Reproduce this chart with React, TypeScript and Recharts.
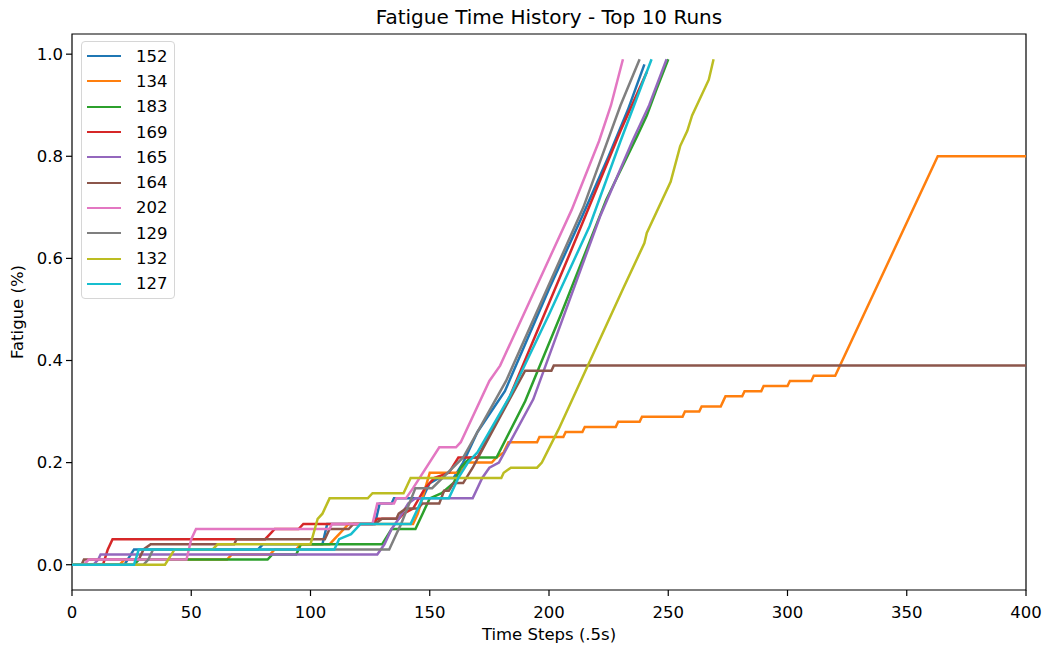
import React from "react";
import { LineChart, Line, XAxis, YAxis, ReferenceArea, Legend } from "recharts";

// run ids, in the order they were plotted
const runNames = ["152", "134", "183", "169", "165", "164", "202", "129", "132", "127"];
const runColors = [
  "#1f77b4",
  "#ff7f0e",
  "#2ca02c",
  "#d62728",
  "#9467bd",
  "#8c564b",
  "#e377c2",
  "#7f7f7f",
  "#bcbd22",
  "#17becf",
];

const xTicks = [0, 50, 100, 150, 200, 250, 300, 350, 400];
const yTicks = [0, 0.2, 0.4, 0.6, 0.8, 1.0];

// [time step, fatigue] break points
const run152: [number, number][] = [
  [0, 0], [22, 0], [26, 0.03], [78, 0.03], [80, 0.04], [105, 0.04], [107, 0.08], [127, 0.08],
  [129, 0.12], [134, 0.12], [135, 0.13], [147, 0.13], [150, 0.16], [154, 0.17], [160, 0.17],
  [164, 0.2], [170, 0.26], [181.5, 0.34], [200, 0.54], [213.7, 0.68], [225, 0.8], [233, 0.89], [240, 0.98],
];
const run134: [number, number][] = [
  [0, 0], [20, 0], [22, 0.01], [65, 0.01], [67, 0.02], [83, 0.02], [85, 0.03], [94, 0.03],
  [96, 0.04], [108, 0.04], [110, 0.05], [112, 0.06], [114, 0.07], [116, 0.08], [143, 0.08],
  [145, 0.1], [150, 0.18], [163, 0.18], [165, 0.2], [176, 0.2], [178, 0.21], [181, 0.22],
  [183, 0.24], [195, 0.24], [196, 0.25], [206, 0.25], [207, 0.26], [214, 0.26], [215, 0.27],
  [228, 0.27], [229, 0.28], [238, 0.28], [239, 0.29], [256, 0.29], [257, 0.3], [263, 0.3],
  [264, 0.31], [272, 0.31], [273, 0.32], [274, 0.33], [281, 0.33], [282, 0.34], [289, 0.34],
  [290, 0.35], [300, 0.35], [301, 0.36], [310, 0.36], [311, 0.37], [320, 0.37], [363, 0.8], [400, 0.8],
];
const run183: [number, number][] = [
  [0, 0], [26, 0], [28, 0.01], [82, 0.01], [84, 0.02], [94, 0.02], [96, 0.04], [130, 0.04],
  [134, 0.07], [144, 0.07], [147, 0.1], [150, 0.13], [155, 0.14], [160, 0.16], [163, 0.19],
  [167, 0.21], [178, 0.21], [190, 0.32], [205, 0.49], [224, 0.715], [237, 0.84], [241, 0.88],
  [245, 0.93], [250, 0.99],
];
const run169: [number, number][] = [
  [0, 0], [13, 0], [15, 0.03], [17, 0.05], [81, 0.05], [83, 0.06], [85, 0.07], [95, 0.07],
  [97, 0.08], [126, 0.08], [128, 0.09], [137, 0.09], [139, 0.1], [143, 0.11], [148, 0.15],
  [152, 0.17], [158, 0.18], [162, 0.21], [170, 0.21], [183.6, 0.33], [208.8, 0.61], [230, 0.85],
  [241, 0.965],
];
const run165: [number, number][] = [
  [0, 0], [9, 0], [11, 0.01], [12, 0.02], [128, 0.02], [131, 0.04], [134, 0.07], [137, 0.09],
  [141, 0.12], [144, 0.13], [168, 0.13], [172, 0.17], [175, 0.19], [179, 0.2], [193.4, 0.324],
  [221.4, 0.682], [235, 0.83], [242, 0.9], [249.3, 0.99],
];
const run164: [number, number][] = [
  [0, 0], [4, 0], [5, 0.01], [28, 0.01], [30, 0.03], [33, 0.04], [68, 0.04], [69, 0.05],
  [106, 0.05], [108, 0.07], [116, 0.07], [118, 0.08], [127, 0.08], [130, 0.09], [136, 0.09],
  [137, 0.1], [140, 0.11], [145, 0.11], [147, 0.12], [154, 0.12], [156, 0.145], [158, 0.145],
  [160, 0.16], [164, 0.16], [168, 0.19], [183, 0.32], [190, 0.38], [201, 0.38], [202, 0.39],
  [400, 0.39],
];
const run202: [number, number][] = [
  [0, 0], [5, 0], [7, 0.01], [48, 0.01], [50, 0.05], [52, 0.07], [108, 0.07], [109, 0.08],
  [126, 0.08], [128, 0.12], [135, 0.12], [136, 0.13], [140, 0.13], [143, 0.15], [154, 0.23],
  [161, 0.23], [163, 0.24], [175, 0.36], [179.5, 0.39], [209.5, 0.695], [221, 0.83], [226, 0.9],
  [231, 0.99],
];
const run129: [number, number][] = [
  [0, 0], [30, 0], [32, 0.01], [34, 0.03], [133, 0.03], [136, 0.06], [138, 0.08], [144, 0.15],
  [151, 0.15], [164, 0.21], [182, 0.36], [214.4, 0.7], [230, 0.9], [238, 0.99],
];
const run132: [number, number][] = [
  [0, 0], [39, 0], [43, 0.03], [59, 0.03], [61, 0.04], [100, 0.04], [103, 0.09], [105, 0.1],
  [108, 0.13], [124, 0.13], [126, 0.14], [139, 0.14], [142, 0.17], [180, 0.17], [181, 0.18],
  [184, 0.19], [195, 0.19], [197, 0.2], [204, 0.265], [231, 0.54], [240, 0.63], [241, 0.65],
  [251, 0.75], [255, 0.82], [258, 0.85], [260, 0.88], [267, 0.95], [269, 0.99],
];
const run127: [number, number][] = [
  [0, 0], [26, 0], [28, 0.03], [110, 0.03], [112, 0.05], [117, 0.06], [121, 0.08], [142, 0.08],
  [147, 0.13], [158, 0.13], [162, 0.17], [166, 0.2], [170, 0.22], [183.6, 0.33], [200, 0.49],
  [217, 0.663], [230, 0.83], [243, 0.99],
];

const runs = [run152, run134, run183, run169, run165, run164, run202, run129, run132, run127];
const series = runs.map((pts) => pts.map(([t, v]) => ({ t, v })));

const FONT = "'DejaVu Sans', sans-serif";

// legend keeps plotting order (recharts sorts by name otherwise)
const renderLegend = ({ payload }: any) => {
  const items = [...(payload || [])].sort(
    (a: any, b: any) => runNames.indexOf(String(a.value)) - runNames.indexOf(String(b.value))
  );
  return (
    <div
      style={{
        boxSizing: "border-box",
        width: 94,
        border: "1px solid #d6d6d6",
        borderRadius: 4,
        background: "rgba(255,255,255,0.8)",
        padding: "1.5px 5px",
        fontFamily: FONT,
        fontSize: 16.5,
        color: "#000",
      }}
    >
      {items.map((p: any) => (
        <div key={p.value} style={{ display: "flex", alignItems: "center", height: 25.3 }}>
          <span style={{ width: 34, borderTop: `2.5px solid ${p.color}`, marginRight: 15 }} />
          <span>{p.value}</span>
        </div>
      ))}
    </div>
  );
};

const FatigueChart: React.FC = () => {
  return (
    <div style={{ position: "absolute", left: 0, top: 0, width: 1045, height: 645, background: "#fff" }}>
      <div
        style={{
          position: "absolute",
          left: 72,
          top: 5,
          width: 954,
          textAlign: "center",
          fontFamily: FONT,
          fontSize: 20,
          lineHeight: "24px",
          color: "#000",
        }}
      >
        Fatigue Time History - Top 10 Runs
      </div>
      <LineChart width={1045} height={645} margin={{ top: 34, right: 19, bottom: 0, left: 0 }}>
        <XAxis
          dataKey="t"
          type="number"
          domain={[0, 400]}
          ticks={xTicks}
          allowDataOverflow
          axisLine={false}
          tickSize={6}
          tickMargin={10}
          tickLine={{ stroke: "#000", strokeWidth: 1.2 }}
          tick={{ fill: "#000", fontSize: 16.5, fontFamily: FONT }}
          height={55}
          label={{
            value: "Time Steps (.5s)",
            position: "insideBottom",
            offset: 5,
            fill: "#000",
            fontSize: 16.5,
            fontFamily: FONT,
          }}
        />
        <YAxis
          type="number"
          domain={[-0.0495, 1.0395]}
          ticks={yTicks}
          allowDataOverflow
          axisLine={false}
          width={72}
          tickSize={6}
          tickMargin={3}
          tickFormatter={(v: number) => v.toFixed(1)}
          tickLine={{ stroke: "#000", strokeWidth: 1.2 }}
          tick={{ fill: "#000", fontSize: 16.5, fontFamily: FONT }}
          label={{
            value: "Fatigue (%)",
            angle: -90,
            position: "insideLeft",
            offset: 17,
            fill: "#000",
            fontSize: 16.5,
            fontFamily: FONT,
            style: { textAnchor: "middle" },
          }}
        />
        {series.map((d, i) => (
          <Line
            key={runNames[i]}
            data={d}
            dataKey="v"
            name={runNames[i]}
            type="linear"
            stroke={runColors[i]}
            strokeWidth={2.5}
            dot={false}
            activeDot={false}
            isAnimationActive={false}
          />
        ))}
        <ReferenceArea
          x1={0}
          x2={400}
          y1={-0.0495}
          y2={1.0395}
          fill="none"
          fillOpacity={0}
          stroke="#000"
          strokeWidth={1.2}
          ifOverflow="visible"
        />
        <Legend
          layout="vertical"
          align="center"
          verticalAlign="middle"
          content={renderLegend}
          wrapperStyle={{ left: 81, top: 41, width: 94, height: 256 }}
        />
      </LineChart>
    </div>
  );
};

export default function App() {
  return <FatigueChart />;
}
